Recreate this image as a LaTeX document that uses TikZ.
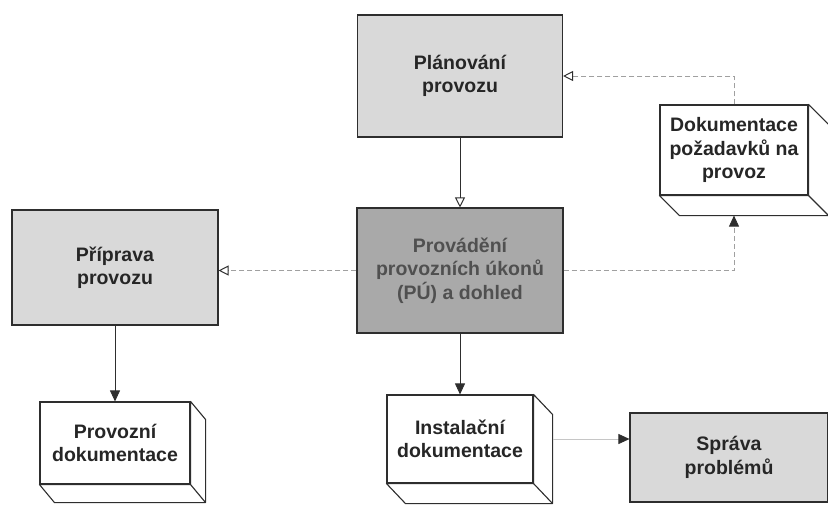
\documentclass[tikz,border=0pt]{standalone}
\usepackage{fontspec}
\setmainfont{Liberation Sans}
\usetikzlibrary{arrows.meta,calc}
\definecolor{edge}{HTML}{2E2E2E}
\definecolor{lightfill}{HTML}{D9D9D9}
\definecolor{darkfill}{HTML}{A9A9A9}
\definecolor{ink}{HTML}{262626}
\definecolor{dimink}{HTML}{505050}
\definecolor{faint}{HTML}{A0A0A0}
\tikzset{
  proc/.style={draw=edge, line width=1.1pt, fill=lightfill, align=center,
    text=ink, font=\fontsize{19.5}{23.5}\selectfont\bfseries, inner sep=0pt},
  docface/.style={draw=edge, line width=1.1pt, fill=white, align=center,
    text=ink, font=\fontsize{19.5}{23.5}\selectfont\bfseries, inner sep=0pt},
  solidflow/.style={draw=edge, line width=0.8pt},
  dashflow/.style={draw=faint, line width=0.7pt, dash pattern=on 5pt off 3pt},
  openhead/.style={-{Triangle[open, length=10pt, width=10pt, line width=1pt, color=edge]}},
  fullhead/.style={-{Triangle[length=11pt, width=10pt, color=edge]}},
}
% draws the extruded right and bottom faces of a document box
\newcommand{\depthfaces}[3]{%
  \draw[edge, line width=1.1pt, fill=white, line join=round]
    (#1.north east) -- ++(#2,#3) -- ($(#1.south east)+(#2,#3)$)
    -- ($(#1.south west)+(#2,#3)$) -- (#1.south west) -- (#1.south east) -- cycle;
  \draw[edge, line width=1.1pt] (#1.south east) -- ++(#2,#3);
}
\begin{document}
\begin{tikzpicture}[x=1pt, y=-1pt]
\useasboundingbox (0,0) rectangle (828,507);
\clip (0,0) rectangle (828,507);

% process boxes
\node[proc, minimum width=205pt, minimum height=122pt] (plan) at (460,76) {Plánování\\provozu};
\node[proc, fill=darkfill, text=dimink, minimum width=206pt, minimum height=125pt] (exec) at (460,270.5) {Provádění\\provozních úkonů\\(PÚ) a dohled};
\node[proc, minimum width=206pt, minimum height=115pt] (prep) at (115,267.5) {Příprava\\provozu};
\node[proc, minimum width=198pt, minimum height=89pt] (prob) at (729,457.5) {Správa\\problémů};

% document boxes
\node[docface, minimum width=148pt, minimum height=90pt] (req) at (734,150) {Dokumentace\\požadavků na\\provoz};
\depthfaces{req}{20}{20}
\node[docface, minimum width=150pt, minimum height=82pt] (opdoc) at (115,443) {Provozní\\dokumentace};
\depthfaces{opdoc}{15}{18}
\node[docface, minimum width=146pt, minimum height=88pt] (inst) at (460,439) {Instalační\\dokumentace};
\depthfaces{inst}{19}{20}

% flows
\draw[solidflow, openhead] (plan.south) -- (exec.north);
\draw[solidflow, fullhead] (prep.south) -- (opdoc.north);
\draw[solidflow, fullhead] (exec.south) -- (inst.north);
\draw[dashflow, openhead] (exec.west) -- (exec.west -| prep.east);
\draw[dashflow, fullhead] (exec.east) -| ($(req.south)+(0,20)$);
\draw[dashflow, openhead] (req.north) |- (plan.east);
\draw[draw=faint!60, line width=0.6pt, fullhead, shorten <=19pt] (inst.east) -- (inst.east -| prob.west);
\end{tikzpicture}
\end{document}
